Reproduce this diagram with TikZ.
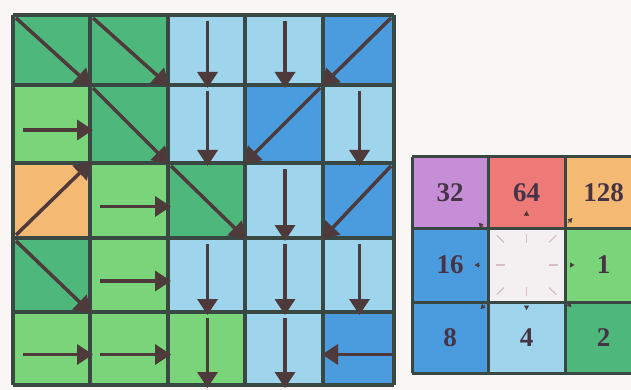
\documentclass[tikz,border=0pt]{standalone}
\usepackage{fontspec}
\setmainfont{Liberation Serif}
\usetikzlibrary{calc,arrows.meta}
\definecolor{bgc}{RGB}{249,246,245}
\definecolor{lgreen}{RGB}{122,212,122}
\definecolor{dgreen}{RGB}{78,184,124}
\definecolor{lblue}{RGB}{158,212,236}
\definecolor{mblue}{RGB}{74,156,222}
\definecolor{orangec}{RGB}{244,186,116}
\definecolor{redc}{RGB}{238,122,120}
\definecolor{purplec}{RGB}{198,142,214}
\definecolor{whitec}{RGB}{244,240,242}
\definecolor{gridc}{RGB}{58,72,68}
\definecolor{arrowc}{RGB}{78,58,58}
\definecolor{labc}{RGB}{70,52,70}
\definecolor{tickc}{RGB}{214,190,200}
\newcommand\cellfill[3]{%
  \pgfmathtruncatemacro\cn{#1+1}\pgfmathtruncatemacro\rn{#2+1}%
  \fill[#3] (p#1-#2) rectangle (p\cn-\rn);}
\newcommand\arrE[2]{%
  \pgfmathtruncatemacro\cn{#1+1}\pgfmathtruncatemacro\rn{#2+1}%
  \draw[flow] ($(p#1-#2)!0.5!(p#1-\rn)+(10,6)$) -- ($(p\cn-#2)!0.5!(p\cn-\rn)+(3,6)$);}
\newcommand\arrW[2]{%
  \pgfmathtruncatemacro\cn{#1+1}\pgfmathtruncatemacro\rn{#2+1}%
  \draw[flow] ($(p\cn-#2)!0.5!(p\cn-\rn)+(-2,6)$) -- ($(p#1-#2)!0.5!(p#1-\rn)+(-1,6)$);}
\newcommand\arrS[2]{%
  \pgfmathtruncatemacro\cn{#1+1}\pgfmathtruncatemacro\rn{#2+1}%
  \draw[flow] ($(p#1-#2)!0.5!(p\cn-#2)+(1,6)$) -- ($(p#1-\rn)!0.5!(p\cn-\rn)+(1,3)$);}
\newcommand\arrSE[2]{%
  \pgfmathtruncatemacro\cn{#1+1}\pgfmathtruncatemacro\rn{#2+1}%
  \draw[flow] ($(p#1-#2)+(3,3)$) -- ($(p\cn-\rn)+(1,1)$);}
\newcommand\arrSW[2]{%
  \pgfmathtruncatemacro\cn{#1+1}\pgfmathtruncatemacro\rn{#2+1}%
  \draw[flow] ($(p\cn-#2)+(-3,3)$) -- ($(p#1-\rn)+(-1,1)$);}
\newcommand\arrNE[2]{%
  \pgfmathtruncatemacro\cn{#1+1}\pgfmathtruncatemacro\rn{#2+1}%
  \draw[flow] ($(p#1-\rn)+(3,-3)$) -- ($(p\cn-#2)+(1,-1)$);}
\begin{document}
\begin{tikzpicture}[x=1pt,y=-1pt,
  flow/.style={draw=arrowc, line width=3.5pt, -{Triangle[length=16pt,width=20pt]}},
  gridline/.style={draw=gridc, line width=3.5pt},
  lab/.style={font=\fontsize{27}{27}\selectfont\bfseries, text=labc, inner sep=0pt},
  tickline/.style={draw=tickc, line width=1.2pt},
  markarrow/.style={draw=arrowc, line width=0.6pt, -{Triangle[length=4.5pt,width=5pt]}}]
\fill[bgc] (0,0) rectangle (631,390);
\clip (0,0) rectangle (631,390);
% main grid corners
\foreach \x [count=\i from 0] in {13,90,168,245,323,394}
  \foreach \y [count=\j from 0] in {15,85,163,238,312,385}
    \coordinate (p\i-\j) at (\x,\y);
\foreach \c/\r/\col in {0/0/dgreen,1/0/dgreen,2/0/lblue,3/0/lblue,4/0/mblue,
  0/1/lgreen,1/1/dgreen,2/1/lblue,3/1/mblue,4/1/lblue,
  0/2/orangec,1/2/lgreen,2/2/dgreen,3/2/lblue,4/2/mblue,
  0/3/dgreen,1/3/lgreen,2/3/lblue,3/3/lblue,4/3/lblue,
  0/4/lgreen,1/4/lgreen,2/4/lgreen,3/4/lblue,4/4/mblue}
  {\cellfill{\c}{\r}{\col}}
\foreach \i in {0,...,5} \draw[gridline] (p\i-0) -- (p\i-5);
\foreach \j in {0,...,5} \draw[gridline] (p0-\j) -- (p5-\j);
\foreach \c/\r/\d in {0/0/SE,1/0/SE,2/0/S,3/0/S,4/0/SW,
  0/1/E,1/1/SE,2/1/S,3/1/SW,4/1/S,
  0/2/NE,1/2/E,2/2/SE,3/2/S,4/2/SW,
  0/3/SE,1/3/E,2/3/S,3/3/S,4/3/S,
  0/4/E,1/4/E,2/4/S,3/4/S,4/4/W}
  {\csname arr\d\endcsname{\c}{\r}}
% legend grid corners
\foreach \x [count=\i from 0] in {412,488,565,642}
  \foreach \y [count=\j from 0] in {157,228,302,373}
    \coordinate (q\i-\j) at (\x,\y);
\fill[purplec] (q0-0) rectangle (q1-1);
\fill[redc] (q1-0) rectangle (q2-1);
\fill[orangec] (q2-0) rectangle (q3-1);
\fill[mblue] (q0-1) rectangle (q1-2);
\fill[whitec] (q1-1) rectangle (q2-2);
\fill[lgreen] (q2-1) rectangle (q3-2);
\fill[mblue] (q0-2) rectangle (q1-3);
\fill[lblue] (q1-2) rectangle (q2-3);
\fill[dgreen] (q2-2) rectangle (q3-3);
\foreach \i in {0,...,3} \draw[draw=gridc, line width=3pt] (q\i-0) -- (q\i-3);
\foreach \j in {0,...,3} \draw[draw=gridc, line width=3pt] (q0-\j) -- (q3-\j);
% labels
\node[lab] (l32) at ($(q0-0)!0.5!(q1-1)$) {32};
\node[lab] (l64) at ($(q1-0)!0.5!(q2-1)$) {64};
\node[lab] (l128) at ($(q2-0)!0.5!(q3-1)$) {128};
\node[lab] (l16) at ($(q0-1)!0.5!(q1-2)$) {16};
\node[lab] (l1) at ($(q2-1)!0.5!(q3-2)$) {1};
\node[lab] (l8) at ($(q0-2)!0.5!(q1-3)$) {8};
\node[lab] (l4) at ($(q1-2)!0.5!(q2-3)$) {4};
\node[lab] (l2) at ($(q2-2)!0.5!(q3-3)$) {2};
% centre ticks
\coordinate (cc) at ($(q1-1)!0.5!(q2-2)$);
\foreach \a in {0,90,180,270}
  \draw[tickline] ($(cc)+(\a:22)$) -- ($(cc)+(\a:31)$);
\foreach \a in {45,135,225,315}
  \draw[tickline] ($(cc)+(\a:32)$) -- ($(cc)+(\a:42)$);
% small outward marks
\foreach \dx/\dy in {0/-54,-52/0,48/0,0/45,-48/-42,46/-47,-46/44,45/42}
  \draw[markarrow] ($(cc)!0.9!($(cc)+(\dx,\dy)$)$) -- ($(cc)+(\dx,\dy)$);
\end{tikzpicture}
\end{document}
